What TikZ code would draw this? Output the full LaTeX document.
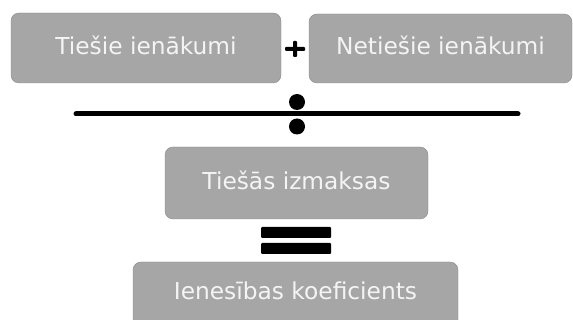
\documentclass[tikz,border=0pt]{standalone}
\usepackage{fontspec}
\setmainfont{DejaVu Sans}
\usepackage{tikz}
\usepackage{xcolor}
\definecolor{boxgray}{HTML}{A6A6A6}
\definecolor{boxline}{HTML}{8A8A8A}
\definecolor{boxtext}{HTML}{F4F4F4}
\tikzset{
    gray-box/.style = {draw=boxline, fill=boxgray, thin, rectangle, rounded corners=8pt, inner sep=0pt, text=boxtext, font=\fontsize{23.3}{28}\selectfont, text depth=6pt},
    sign-bar/.style = {fill=black, rounded corners=1pt},
}

\begin{document}
\begin{tikzpicture}[x=1pt, y=-1pt]
\useasboundingbox (0,0) rectangle (573,320);
\clip (0,0) rectangle (573,320);
\node [gray-box, minimum width=270pt, minimum height=70pt] (direct) at (146,48) {Tiešie ienākumi};
\node [gray-box, minimum width=263pt, minimum height=69pt] (indirect) at (440.5,48.5) {Netiešie ienākumi};
\node [gray-box, minimum width=263pt, minimum height=72pt] (costs) at (296.5,183) {Tiešās izmaksas};
\node [gray-box, minimum width=325pt, minimum height=90pt, text height=35pt, text depth=50pt] (ratio) at (295.5,307) {Ienesības koeficients};
% plus between the two incomes
\coordinate (plus) at (295,49);
\fill [sign-bar] ([xshift=-10pt, yshift=-2pt]plus) rectangle ([xshift=10pt, yshift=2pt]plus);
\fill [sign-bar] ([xshift=-2pt, yshift=-8pt]plus) rectangle ([xshift=2pt, yshift=8pt]plus);
% division sign
\coordinate (bar-left) at (76,114);
\coordinate (bar-right) at (518,114);
\draw [line width=5pt, line cap=round] (bar-left) -- (bar-right);
\fill (297,102) circle (8pt);
\fill (297,126.5) circle (8pt);
% equals sign
\fill [sign-bar] (261,227) rectangle (331,238);
\fill [sign-bar] (261,243) rectangle (331,254);
\end{tikzpicture}
\end{document}
